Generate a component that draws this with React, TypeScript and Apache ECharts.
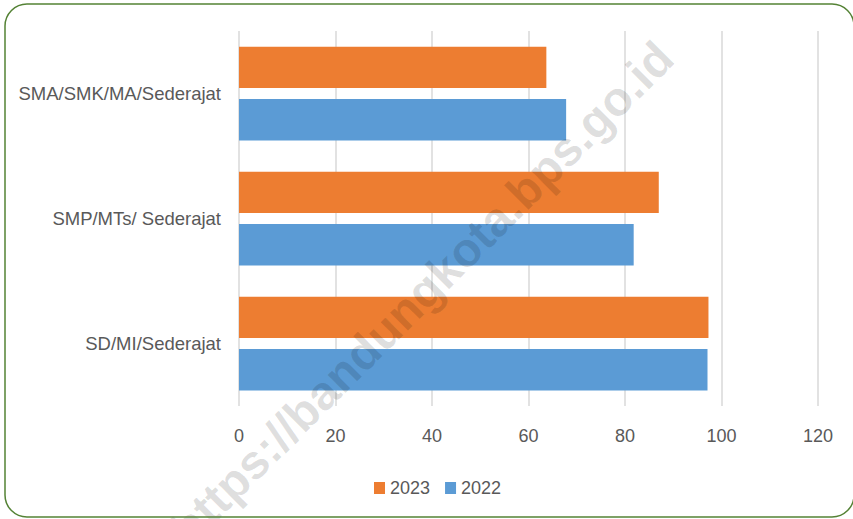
import React, { useEffect, useRef } from "react";
import * as echarts from "echarts";

const categories = ["SD/MI/Sederajat", "SMP/MTs/ Sederajat", "SMA/SMK/MA/Sederajat"];
const values2023 = [97.3, 87.0, 63.7];
const values2022 = [97.1, 81.8, 67.8];
const seriesNames = ["2023", "2022"];
const xTicks = { min: 0, max: 120, interval: 20 };
const watermark = "https://bandungkota.bps.go.id";

export default function App() {
  const ref = useRef<HTMLDivElement>(null);
  useEffect(() => {
    if (!ref.current) return;
    const chart = echarts.init(ref.current, null, { renderer: "svg" });
    const font = "'Liberation Sans', Arial, sans-serif";
    chart.setOption({
      animation: false,
      backgroundColor: "#ffffff",
      grid: { left: 239, right: 35, top: 31, bottom: 113, containLabel: false },
      legend: {
        data: seriesNames,
        left: 369,
        top: 474,
        itemWidth: 11,
        itemHeight: 12,
        itemGap: 15,
        icon: "rect",
        textStyle: { color: "#595959", fontSize: 18, fontFamily: font },
      },
      xAxis: {
        type: "value",
        min: xTicks.min,
        max: xTicks.max,
        interval: xTicks.interval,
        axisLine: { show: false },
        axisTick: { show: false },
        axisLabel: { color: "#595959", fontSize: 18, fontFamily: font, margin: 21 },
        splitLine: { show: true, lineStyle: { color: "#D9D9D9", width: 1.5 } },
      },
      yAxis: {
        type: "category",
        data: categories,
        axisLine: { show: false },
        axisTick: { show: false },
        splitLine: { show: false },
        axisLabel: { color: "#595959", fontSize: 18.5, fontFamily: font, margin: 18 },
      },
      series: [
        {
          name: "2023",
          type: "bar",
          data: values2023,
          itemStyle: { color: "#ED7D31" },
          barGap: "26%",
          barCategoryGap: "25%",
        },
        {
          name: "2022",
          type: "bar",
          data: values2022,
          itemStyle: { color: "#5B9BD5" },
          barGap: "26%",
          barCategoryGap: "25%",
        },
      ],
      graphic: [
        {
          type: "text",
          x: 422,
          y: 293,
          rotation: Math.PI / 4,
          z: 100,
          silent: true,
          style: {
            text: watermark,
            fontSize: 48,
            fontWeight: "bold",
            fontFamily: font,
            fill: "rgba(0,0,0,0.13)",
            textAlign: "center",
            textVerticalAlign: "middle",
          },
        },
        {
          type: "rect",
          z: 101,
          silent: true,
          shape: { x: 5, y: 4, width: 849, height: 513, r: 22 },
          style: { fill: "none", stroke: "#548235", lineWidth: 1.5 },
        },
      ],
    });
    return () => chart.dispose();
  }, []);
  return (
    <div
      ref={ref}
      style={{ position: "fixed", left: 0, top: 0, width: 853, height: 519 }}
    />
  );
}
